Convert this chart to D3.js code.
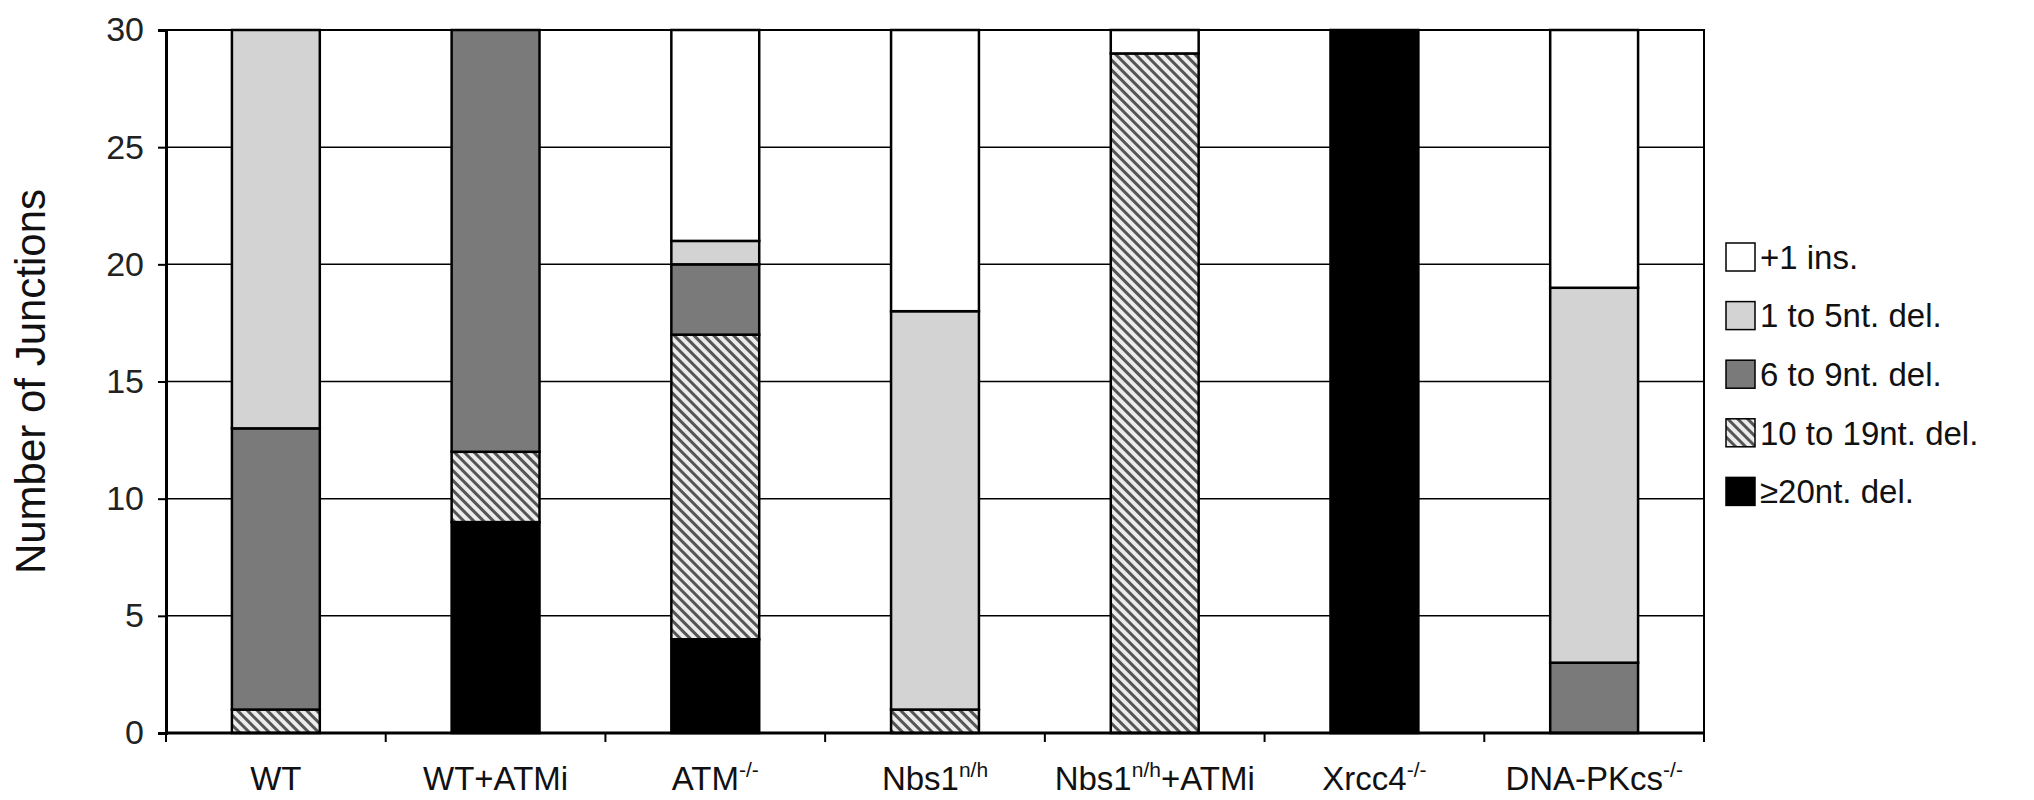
<!DOCTYPE html>
<html><head><meta charset="utf-8">
<script src="https://cdn.jsdelivr.net/npm/d3@7"></script>
<style>body{margin:0;background:#fff}text{font-family:Arial,"Liberation Sans",sans-serif}</style>
</head><body><svg id="c" width="2034" height="800"></svg>
<script>
const categories=[
 {base:"WT",sup:"",tail:""},
 {base:"WT+ATMi",sup:"",tail:""},
 {base:"ATM",sup:"-/-",tail:""},
 {base:"Nbs1",sup:"n/h",tail:""},
 {base:"Nbs1",sup:"n/h",tail:"+ATMi"},
 {base:"Xrcc4",sup:"-/-",tail:""},
 {base:"DNA-PKcs",sup:"-/-",tail:""}];
const seriesNames=["≥20nt. del.","10 to 19nt. del.","6 to 9nt. del.","1 to 5nt. del.","+1 ins."];
const del20=[0,9,4,0,0,30,0];
const del10=[1,3,13,1,29,0,0];
const del6=[12,18,3,0,0,0,3];
const del1=[17,0,1,17,0,0,16];
const ins1=[0,0,9,12,1,0,11];
const yTicks=[0,5,10,15,20,25,30];
const series=[del20,del10,del6,del1,ins1];
const fills=["#000","url(#hatch)","#7a7a7a","#d3d3d3","#fff"];

const svg=d3.select("#c");
const defs=svg.append("defs");
const p=defs.append("pattern").attr("id","hatch").attr("patternUnits","userSpaceOnUse")
 .attr("width",7).attr("height",7).attr("patternTransform","rotate(-45)");
p.append("rect").attr("width",7).attr("height",7).attr("fill","#ececec");
p.append("rect").attr("width",3).attr("height",7).attr("fill","#555");

const L=166,R=1704,T=30,B=733;
const x=d3.scaleBand().domain(d3.range(categories.length)).range([L,R]).paddingInner(0.6).paddingOuter(0.3);
const xb=d3.scaleBand().domain(d3.range(categories.length)).range([L,R]);
const y=d3.scaleLinear().domain([0,30]).range([B,T]);

svg.append("g").selectAll("line").data(yTicks).join("line")
 .attr("x1",L).attr("x2",R).attr("y1",d=>y(d)).attr("y2",d=>y(d)).attr("stroke","#000").attr("stroke-width",1.5);
svg.append("rect").attr("x",L).attr("y",T).attr("width",R-L).attr("height",B-T).attr("fill","none").attr("stroke","#000").attr("stroke-width",2);

const stack=series.map(()=>[]);
categories.forEach((c,i)=>{let acc=0;series.forEach((s,k)=>{stack[k].push([acc,acc+s[i]]);acc+=s[i];});});
series.forEach((s,k)=>{
 svg.append("g").selectAll("rect").data(stack[k].map((d,i)=>({d,i}))).join("rect")
  .filter(o=>o.d[1]>o.d[0])
  .attr("x",o=>x(o.i)).attr("width",x.bandwidth())
  .attr("y",o=>y(o.d[1])).attr("height",o=>y(o.d[0])-y(o.d[1]))
  .attr("fill",fills[k]).attr("stroke","#000").attr("stroke-width",2.5);
});

const ya=svg.append("g").attr("transform",`translate(${L},0)`).call(d3.axisLeft(y).tickValues(yTicks).tickSize(8).tickPadding(14));
ya.select(".domain").attr("stroke-width",3);
ya.selectAll(".tick line").attr("stroke-width",2);
ya.selectAll("text").attr("font-size",34).attr("fill","#222");
const xa=svg.append("g").attr("transform",`translate(0,${B})`);
xa.append("line").attr("x1",L).attr("x2",R).attr("stroke","#000").attr("stroke-width",3);
xa.selectAll(".t").data(d3.range(categories.length+1)).join("line")
 .attr("x1",i=>i<categories.length?xb(i):R).attr("x2",i=>i<categories.length?xb(i):R).attr("y1",0).attr("y2",9).attr("stroke","#000").attr("stroke-width",2);
categories.forEach((c,i)=>{
 const t=svg.append("text").attr("x",x(i)+x.bandwidth()/2).attr("y",790).attr("text-anchor","middle").attr("font-size",33).attr("fill","#111");
 t.append("tspan").text(c.base);
 if(c.sup) t.append("tspan").attr("dy",-13).attr("font-size",21).text(c.sup);
 if(c.tail) t.append("tspan").attr("dy",13).text(c.tail);
});
svg.append("text").attr("transform",`translate(30,${(T+B)/2}) rotate(-90)`).attr("text-anchor","middle")
 .attr("dy","0.35em").attr("font-size",42).attr("fill","#111").text("Number of Junctions");

const leg=[4,3,2,1,0];
leg.forEach((k,j)=>{
 const cy=257+j*58.6;
 svg.append("rect").attr("x",1726).attr("y",cy-14).attr("width",29).attr("height",28).attr("fill",fills[k]).attr("stroke","#000").attr("stroke-width",1.5);
 svg.append("text").attr("x",1760).attr("y",cy).attr("dy","0.36em").attr("font-size",33).attr("fill","#111").text(seriesNames[k]);
});
</script></body></html>
